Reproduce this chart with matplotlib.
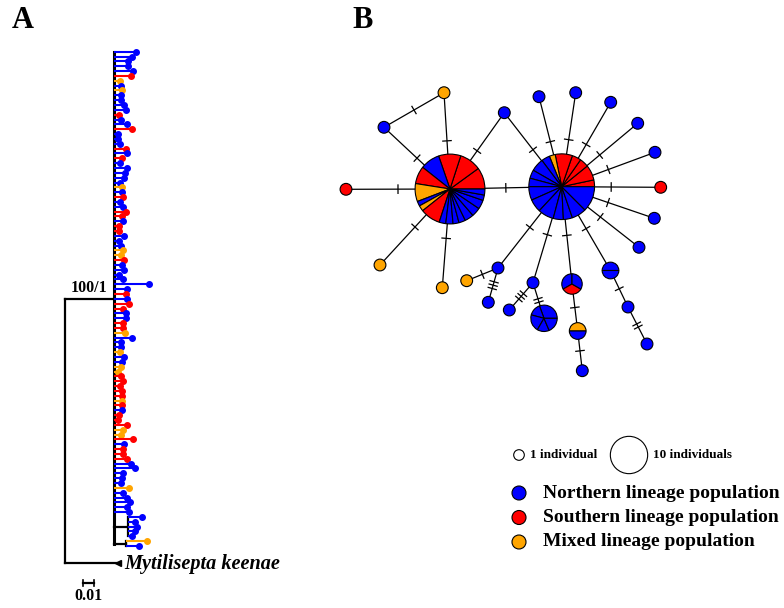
import numpy as np
import matplotlib
matplotlib.use("Agg")
import matplotlib.pyplot as plt
from matplotlib.patches import Wedge, Circle

plt.rcParams["font.family"] = ["Liberation Serif", "DejaVu Serif"]
plt.rcParams["font.weight"] = "bold"

pop_colors = {"B": "#0000ff", "R": "#ff0000", "O": "#ffa500"}

# ---- A: tree, ingroup tips top to bottom (B northern, R southern, O mixed)
comb_pop = ("BBBBBROBOBBBBRBBRBBBRBRBBBB"
            "BOBRBBRRBRRBBBOORBBBBBBRBRRB"
            "BRROBBBOBBOORRRRRORBRRROORBRR"
            "RBBBBBOBBBBB")
comb_len = [.0200, .0164, .0127, .0127, .0173, .0155, .0055, .0064, .0073, .0064,
            .0064, .0091, .0109, .0045, .0064, .0118, .0164, .0036, .0036, .0055,
            .0109, .0118, .0073, .0055, .0118, .0100, .0091,
            .0055, .0073, .0073, .0082, .0055, .0082, .0109, .0073, .0082, .0045,
            .0045, .0091, .0045, .0064, .0082, .0064, .0091, .0073, .0091, .0045,
            .0082, .0318, .0118, .0109, .0118, .0136, .0082, .0109,
            .0109, .0082, .0082, .0100, .0164, .0064, .0064, .0055, .0091, .0073,
            .0064, .0036, .0064, .0082, .0055, .0073, .0073, .0073, .0073, .0073,
            .0045, .0036, .0118, .0082, .0064, .0173, .0091, .0082, .0082,
            .0118, .0155, .0191, .0082, .0073, .0064, .0136, .0082, .0118, .0145,
            .0118, .0136]
clade_a_pop = "BBBBB"
clade_a_len = [.0127, .0064, .0082, .0064, .0034]
clade_a_stem = .0127
clade_b_pop = "OB"
clade_b_len = [.0191, .0118]
clade_b_stem = .0109
ingroup_stem = .0445
outgroup_len = .0482
outgroup_name = "Mytilisepta keenae"
node_support = "100/1"
scale_len = 0.01

# ---- B: haplotype network
node_x = [450, 561.7, 384, 444, 504.3, 346, 380, 442.3, 539, 575.7, 610.7, 637.7,
          655, 660.7, 654.3, 639, 610.5, 572, 533, 498, 466.7, 488.3, 509.3, 544,
          577.7, 582.3, 628, 647]
node_y = [189, 186.7, 127.3, 92.7, 112.7, 189.3, 265, 287.7, 96.7, 92.7, 102.3, 123.3,
          152.3, 187.3, 218.3, 247.3, 270.5, 284, 282.7, 268, 280.7, 302.3, 310, 318.3,
          331, 370.7, 307, 344]
node_n = [35, 31, 1, 1, 1, 1, 1, 1, 1, 1, 1, 1, 1, 1, 1, 1, 2, 3, 1, 1, 1, 1, 1, 5,
          2, 1, 1, 1]
node_pop = ["RRRBROBORBBBBBBBBB", "RRRRROBBBBBBBBBBB", "B", "O", "B", "R", "O", "O",
            "B", "B", "B", "B", "B", "R", "B", "B", "BB", "BRB", "B", "B", "O", "B",
            "B", "BBBBB", "OB", "B", "B", "B"]
slice_w = {0: [36, 36, 37, 32.6, 29.4, 30, 8, 9.5, 33.5, 11, 12, 10, 11, 15, 15, 15, 9, 10],
           1: [12, 27, 16, 16, 30.5, 10.5, 15, 23, 15, 15, 24, 23, 28, 18, 16, 26, 45],
           23: [110, 55, 75, 53, 67]}
slice_start = {17: 90}
# (from, to, mutation steps)
edges = [(0, 1, 1), (0, 2, 1), (0, 3, 1), (0, 4, 1), (0, 5, 1), (0, 6, 1), (0, 7, 1),
         (2, 3, 1), (1, 4, 1), (1, 8, 1), (1, 9, 1), (1, 10, 1), (1, 11, 1), (1, 12, 1),
         (1, 13, 1), (1, 14, 1), (1, 15, 1), (1, 16, 1), (1, 17, 1), (1, 18, 1),
         (1, 19, 1), (19, 20, 1), (19, 21, 3), (18, 22, 3), (18, 23, 2), (17, 24, 1),
         (24, 25, 1), (16, 26, 1), (26, 27, 2)]
legend_labels = ["Northern lineage population", "Southern lineage population",
                 "Mixed lineage population"]

fig = plt.figure(figsize=(7.84, 6.08), dpi=100)

# tree axes: x in substitutions/site, y in tip rows
axA = fig.add_axes([0, 0, 1, 1])
axA.set_xlim(-65 / 1100, 719 / 1100)
axA.set_ylim(114.8, -10.67)
axA.axis("off")
axA.patch.set_alpha(0)


def tip(ax, x0, y, L, p):
    c = pop_colors[p]
    ax.plot([x0, x0 + L], [y, y], color=c, lw=1.5, solid_capstyle="butt", zorder=3)
    ax.plot(x0 + L, y, "o", color=c, ms=4, mec=c, zorder=3)


x0 = ingroup_stem
n = len(comb_pop)
for y, p, L in zip(range(n), comb_pop, comb_len):
    tip(axA, x0, y, L, p)

ya = n + np.arange(len(clade_a_pop))
yb = ya[-1] + 1 + np.arange(len(clade_b_pop))
for ys, pops, lens, stem in [(ya, clade_a_pop, clade_a_len, clade_a_stem),
                             (yb, clade_b_pop, clade_b_len, clade_b_stem)]:
    for y, p, L in zip(ys, pops, lens):
        tip(axA, x0 + stem, y, L, p)
    axA.plot([x0 + stem] * 2, [ys[0], ys[-1]], color="black", lw=1.6)
    axA.plot([x0, x0 + stem], [ys.mean()] * 2, color="black", lw=1.6)

axA.plot([x0, x0], [0, yb.mean()], color="black", lw=2.2)
y_in = yb[-1] / 2
y_out = yb[-1] + 3.5
axA.plot([0, 0], [y_in, y_out], color="black", lw=1.6)
axA.plot([0, x0], [y_in, y_in], color="black", lw=1.6)
axA.plot([0, outgroup_len], [y_out, y_out], color="black", lw=1.6)
axA.plot(outgroup_len, y_out, marker="<", color="black", ms=5)
axA.text(outgroup_len + 0.0055, y_out + 0.3, outgroup_name, style="italic", fontsize=14.6,
         ha="left", va="center")
axA.text(x0 - 0.0055, y_in - 2.3, node_support, fontsize=11.5, ha="right", va="center")
sx = 0.0164
sy = 109.6
axA.plot([sx, sx + scale_len], [sy, sy], color="black", lw=1.6)
for xx in (sx, sx + scale_len):
    axA.plot([xx, xx], [sy - 0.6, sy + 0.6], color="black", lw=1.2)
axA.text(sx + scale_len / 2, sy + 2.7, "0.01", fontsize=11.5, ha="center", va="center")

# network axes: pixel-like layout units
axB = fig.add_axes([0, 0, 1, 1])
axB.set_xlim(0, 784)
axB.set_ylim(608, 0)
axB.axis("off")
axB.patch.set_alpha(0)

r1 = 5.9
for i, j, m in edges:
    p = np.array([node_x[i], node_y[i]])
    q = np.array([node_x[j], node_y[j]])
    axB.plot([p[0], q[0]], [p[1], q[1]], color="black", lw=0.9, zorder=1)
    d = (q - p) / np.linalg.norm(q - p)
    nrm = np.array([-d[1], d[0]])
    mid = (p + q) / 2
    for k in range(m):
        c = mid + d * (k - (m - 1) / 2) * 3.5
        a, b = c - nrm * 4.2, c + nrm * 4.2
        axB.plot([a[0], b[0]], [a[1], b[1]], color="black", lw=0.9, zorder=1)

for i, (x, y, cnt, pops) in enumerate(zip(node_x, node_y, node_n, node_pop)):
    r = r1 * np.sqrt(cnt)
    if len(pops) == 1:
        axB.add_patch(Circle((x, y), r, facecolor=pop_colors[pops], edgecolor="black",
                             lw=0.8, zorder=3))
        continue
    w = np.array(slice_w.get(i, [1] * len(pops)), float)
    ang = slice_start.get(i, 0) + np.concatenate([[0], np.cumsum(w) / w.sum() * 360])
    for a1, a2, p in zip(ang[:-1], ang[1:], pops):
        axB.add_patch(Wedge((x, y), r, -a2, -a1, facecolor=pop_colors[p],
                            edgecolor="black", lw=0.8, zorder=3))

# size legend
axB.add_patch(Circle((519, 455), r1 * 0.9, facecolor="white", edgecolor="black", lw=0.8))
axB.text(530, 455, "1 individual", fontsize=9.5, ha="left", va="center")
axB.add_patch(Circle((629, 455), r1 * np.sqrt(10), facecolor="white", edgecolor="black",
                     lw=0.8))
axB.text(653, 455, "10 individuals", fontsize=9.5, ha="left", va="center")
for k, (lab, p) in enumerate(zip(legend_labels, "BRO")):
    yy = 493 + k * 24.5
    axB.add_patch(Circle((519, yy), 7, facecolor=pop_colors[p], edgecolor="black", lw=0.8))
    axB.text(543, yy, lab, fontsize=14, ha="left", va="center")

fig.text(23 / 784, 1 - 20 / 608, "A", fontsize=22, ha="center", va="center")
fig.text(363 / 784, 1 - 20 / 608, "B", fontsize=22, ha="center", va="center")

fig.savefig("out.png", dpi=100)
